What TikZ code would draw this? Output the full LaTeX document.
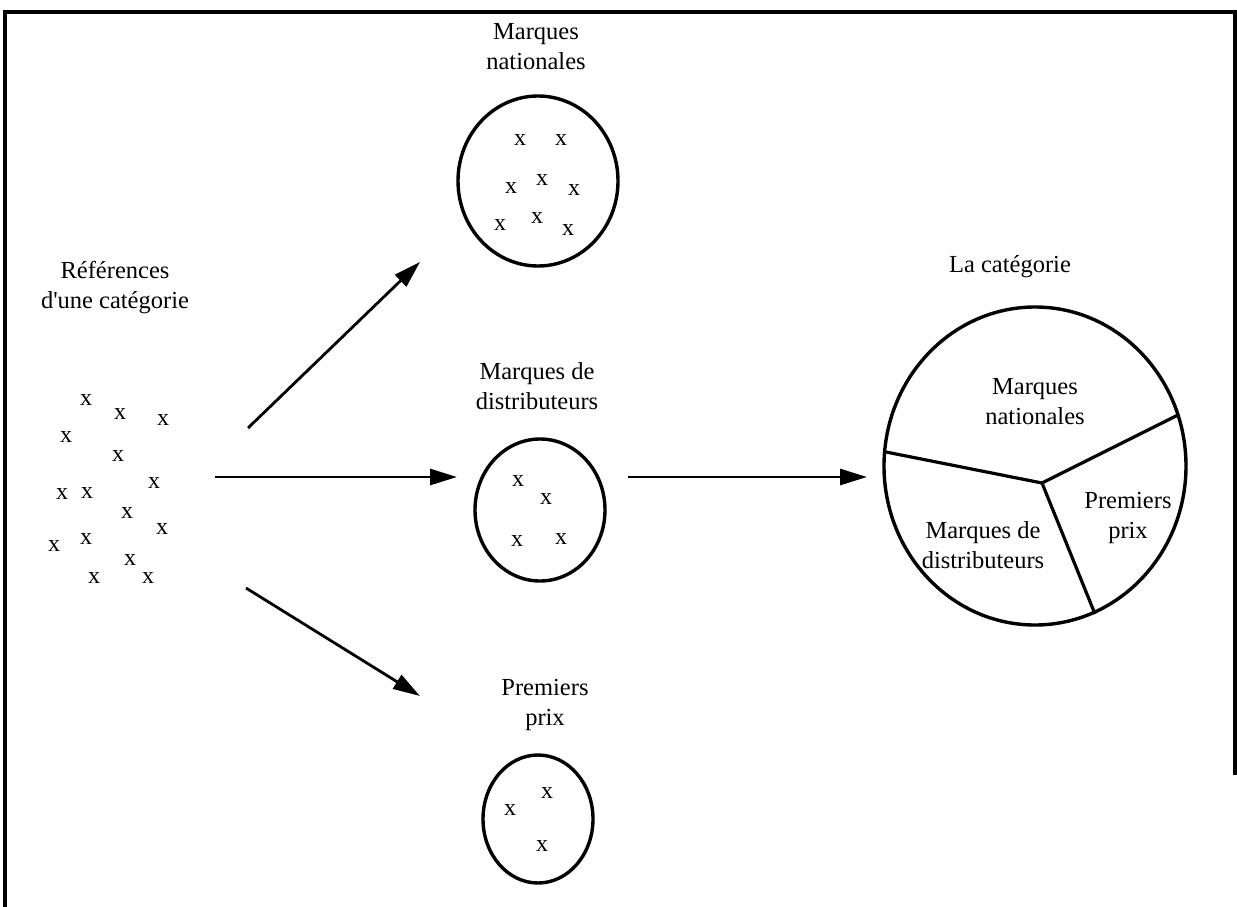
\documentclass[tikz,border=0pt]{standalone}
\usepackage{fontspec}
\newfontfamily\tnr{Liberation Serif}
\usetikzlibrary{arrows.meta,shapes.geometric}
\begin{document}
\begin{tikzpicture}[x=1pt,y=-1pt,
  lbl/.style={align=center,font=\tnr\fontsize{24.5}{30}\selectfont,inner sep=0pt},
  xm/.style={font=\tnr\fontsize{24}{24}\selectfont,inner sep=0pt},
  oval/.style={draw,line width=3.4pt},
  arr/.style={line width=2.8pt,-{Triangle[length=27pt,width=16pt]}},
  seg/.style={line width=3.2pt},
  frame/.style={line width=3.2pt}]
\useasboundingbox (0,0) rectangle (1237,907);
% frame
\coordinate (ftl) at (5,12);
\coordinate (ftr) at (1235,12);
\coordinate (fbl) at (5,907);
\coordinate (fbr) at (1235,775);
\draw[frame] (fbl) -- (ftl) -- (ftr) -- (fbr);
% labels
\node[lbl] (lnat) at (536,47) {Marques\\nationales};
\node[lbl] (lref) at (115,288) {Références\\d'une catégorie};
\node[lbl] (ldis) at (537,386) {Marques de\\distributeurs};
\node[lbl] (lpp) at (545,705) {Premiers\\prix};
\node[lbl] (lcat) at (1010,267) {La catégorie};
% left cluster
\foreach \px/\py [count=\i] in {86/400,120/414,163/420,66/437,118/456,154/483,62/494,87/493,127/513,162/529,54/546,86/539,130/560,148/578,94/578}
  \node[xm] (r\i) at (\px,\py) {x};
% ovals
\draw[oval] (538,181) ellipse [x radius=80, y radius=85];
\node[inner sep=0pt] (enat) at (538,181) {};
\foreach \px/\py [count=\i] in {520/140,561/140,511/188,542/180,574/190,500/225,537/218,568/230}
  \node[xm] (n\i) at (\px,\py) {x};
\draw[oval] (540,510) ellipse [x radius=65, y radius=71];
\node[inner sep=0pt] (edis) at (540,510) {};
\foreach \px/\py [count=\i] in {518/481,546/499,517/541,561/539}
  \node[xm] (d\i) at (\px,\py) {x};
\draw[oval] (538,819) ellipse [x radius=55, y radius=64];
\node[inner sep=0pt] (epp) at (538,819) {};
\foreach \px/\py [count=\i] in {510/810,547/793,542/846}
  \node[xm] (p\i) at (\px,\py) {x};
% arrows
\coordinate (a1s) at (248,428); \coordinate (a1e) at (420,262);
\coordinate (a2s) at (215,477); \coordinate (a2e) at (457,477);
\coordinate (a3s) at (246,588); \coordinate (a3e) at (420,696);
\coordinate (a4s) at (628,477); \coordinate (a4e) at (867,477);
\draw[arr] (a1s) -- (a1e);
\draw[arr] (a2s) -- (a2e);
\draw[arr] (a3s) -- (a3e);
\draw[arr] (a4s) -- (a4e);
% pie
\draw[oval] (1035,466) ellipse [x radius=151, y radius=159];
\coordinate (pc) at (1042,483);
\coordinate (pw) at (886,452);
\coordinate (pe) at (1178,415);
\coordinate (ps) at (1095,614);
\draw[seg] (pw) -- (pc) -- (pe);
\draw[seg] (pc) -- (ps);
\node[lbl] (snat) at (1035,402) {Marques\\nationales};
\node[lbl] (spp) at (1128,518) {Premiers\\prix};
\node[lbl] (sdis) at (983,545) {Marques de\\distributeurs};
\end{tikzpicture}
\end{document}
